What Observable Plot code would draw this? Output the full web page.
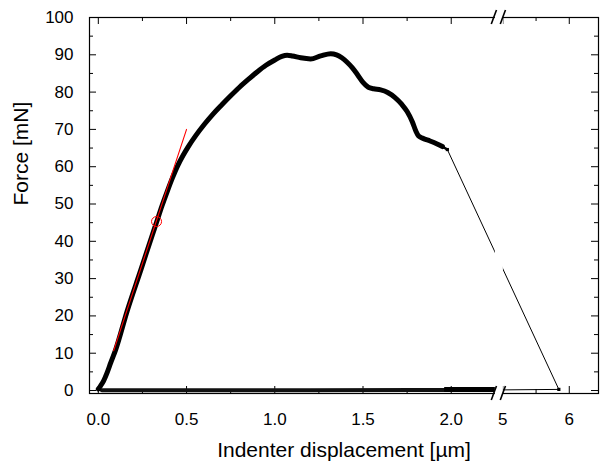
<!DOCTYPE html>
<html><head><meta charset="utf-8">
<script src="https://cdn.jsdelivr.net/npm/d3@7"></script>
<script src="https://cdn.jsdelivr.net/npm/@observablehq/plot@0.6"></script>
<style>html,body{margin:0;padding:0;background:#fff}svg{display:block}</style>
</head><body><div id="chart"></div>
<script>
// ---- data ----
const loadX = [0.000,0.012,0.030,0.050,0.070,0.098,0.164,0.240,0.306,0.330,0.360,0.390,0.420,0.450,0.480,0.510,0.550,0.600,0.650,0.700,0.750,0.800,0.850,0.900,0.950,1.000,1.040,1.070,1.100,1.147,1.203,1.260,1.317,1.350,1.380,1.410,1.440,1.470,1.500,1.530,1.560,1.600,1.640,1.680,1.720,1.750,1.780,1.800,1.815,1.840,1.880,1.920,1.950];
const loadF = [0.4,1.2,2.6,4.8,7.4,10.9,21.4,32.2,41.7,45.1,49.4,53.3,57.0,60.3,63.0,65.4,68.2,71.3,74.1,76.6,79.0,81.3,83.4,85.4,87.2,88.6,89.6,89.9,89.7,89.2,88.9,89.7,90.3,90.0,89.2,88.0,86.5,84.6,82.6,81.3,80.9,80.6,79.9,78.6,76.7,74.8,72.0,69.5,68.2,67.6,66.9,66.1,65.4];
const tailX = [1.920,1.950,1.978];
const tailF = [66.1,65.4,64.6];
const dropX = [1.978,5.843];
const dropF = [64.6,0.3];
const returnX = [5.843,2.25];
const returnF = [0.3,0.15];
const baseX = [2.25,1.80,1.20,0.60,0.02];
const baseF = [0.15,0.15,0.1,0.1,0.1];
const baseHeavyX = [2.25,1.96];
const baseHeavyF = [0.3,0.3];
const endX = [1.978,5.843];
const endF = [64.6,0.3];
const fitX = [0.087,0.5];
const fitF = [10.7,70];
const markX = [0.33];
const markF = [45.3];
const xMajor = [0,0.5,1,1.5,2,5,6];
const xMajorLabels = ["0.0","0.5","1.0","1.5","2.0","5","6"];
const xMinor = [0.25,0.75,1.25,1.75,5.5];
const yMajor = [0,10,20,30,40,50,60,70,80,90,100];
const yMinor = [5,15,25,35,45,55,65,75,85,95];
const xTitle = "Indenter displacement [µm]";
const yTitle = "Force [mN]";

// ---- broken x axis: [-0.05, 2.27] // [4.94, 6.44] ----
const seg1 = [-0.05, 2.27], seg2 = [4.94, 6.44], ratio = 66.4 / 176.4;
const brk = v => v <= seg1[1] ? v : seg1[1] + (v - seg2[0]) * ratio;
const pts = (xs, ys) => xs.map((x, i) => ({u: brk(x), f: ys[i]}));
const labelMap = new Map(xMajor.map((v, i) => [brk(v), xMajorLabels[i]]));

const W = 601, H = 461, mL = 89, mR = 3, mT = 17, mB = 68;
const innerW = W - mL - mR, innerH = H - mT - mB;
const majorLen = 7, minorLen = 4;

const plot = Plot.plot({
  width: W, height: H,
  marginLeft: mL, marginRight: mR, marginTop: mT, marginBottom: mB,
  style: {fontFamily: "'Liberation Sans', Arial, sans-serif", fontSize: "17px", color: "#000", background: "#fff", overflow: "visible"},
  x: {domain: [brk(seg1[0]), brk(seg2[1])]},
  y: {domain: [-0.8, 100]},
  marks: [
    Plot.frame({stroke: "#000", strokeWidth: 1.2}),
    // inward ticks on all four sides
    Plot.ruleX(xMajor.map(brk), {x: d => d, insetTop: innerH - majorLen, stroke: "#000"}),
    Plot.ruleX(xMajor.map(brk), {x: d => d, insetBottom: innerH - majorLen, stroke: "#000"}),
    Plot.ruleX(xMinor.map(brk), {x: d => d, insetTop: innerH - minorLen, stroke: "#000"}),
    Plot.ruleX(xMinor.map(brk), {x: d => d, insetBottom: innerH - minorLen, stroke: "#000"}),
    Plot.ruleY(yMajor, {y: d => d, insetRight: innerW - majorLen, stroke: "#000"}),
    Plot.ruleY(yMajor, {y: d => d, insetLeft: innerW - majorLen, stroke: "#000"}),
    Plot.ruleY(yMinor, {y: d => d, insetRight: innerW - minorLen, stroke: "#000"}),
    Plot.ruleY(yMinor, {y: d => d, insetLeft: innerW - minorLen, stroke: "#000"}),
    // tick labels
    Plot.axisX({ticks: xMajor.map(brk), tickSize: 0, tickPadding: 19, tickFormat: u => labelMap.get(u), label: null}),
    Plot.axisY({ticks: yMajor, tickSize: 0, tickPadding: 16, label: null}),
    // axis titles
    Plot.text([xTitle], {text: d => d, frameAnchor: "bottom", dy: 63, lineAnchor: "bottom", fontSize: 21}),
    Plot.text([yTitle], {text: d => d, frameAnchor: "left", dx: -61.5, rotate: -90, lineAnchor: "bottom", fontSize: 21}),
    // data
    Plot.line(pts(baseX, baseF), {x: "u", y: "f", stroke: "#111", strokeWidth: 4, strokeLinejoin: "round", strokeLinecap: "round"}),
    Plot.line(pts(baseHeavyX, baseHeavyF), {x: "u", y: "f", stroke: "#000", strokeWidth: 5, strokeLinecap: "butt"}),
    Plot.line(pts(returnX, returnF), {x: "u", y: "f", stroke: "#000", strokeWidth: 1}),
    Plot.line(pts(dropX, dropF), {x: "u", y: "f", stroke: "#000", strokeWidth: 1}),
    Plot.line(pts(loadX, loadF), {x: "u", y: "f", stroke: "#000", strokeWidth: 5, strokeLinejoin: "round", strokeLinecap: "round", curve: "monotone-x"}),
    Plot.line(pts(tailX, tailF), {x: "u", y: "f", stroke: "#000", strokeWidth: 2.5}),
    Plot.dot(pts(endX, endF), {x: "u", y: "f", symbol: "square", r: 1.8, fill: "#000"}),
    Plot.line(pts(fitX, fitF), {x: "u", y: "f", stroke: "#ff0000", strokeWidth: 1.1}),
    Plot.dot(pts(markX, markF), {x: "u", y: "f", r: 5, stroke: "#ff0000", strokeWidth: 1, fill: "none"}),
    // gap at the axis break
    Plot.ruleX([brk(seg1[1])], {x: d => d, stroke: "#fff", strokeWidth: 8, insetTop: -2, insetBottom: -2})
  ]
});

// break marks "//" on top and bottom axes, placed with the plot's own scales
const sx = plot.scale("x"), sy = plot.scale("y");
const bx = sx.apply(brk(seg1[1]));
const yTop = sy.apply(100), yBot = sy.apply(-0.8);
const g = d3.select(plot).append("g").attr("stroke", "#000").attr("stroke-width", 1.6);
for (const yy of [yTop, yBot]) {
  for (const c of [bx - 4.5, bx + 4.5]) {
    g.append("line").attr("x1", c - 2.6).attr("y1", yy + 7).attr("x2", c + 2.6).attr("y2", yy - 7);
  }
}
document.getElementById("chart").appendChild(plot);
</script>
</body></html>
